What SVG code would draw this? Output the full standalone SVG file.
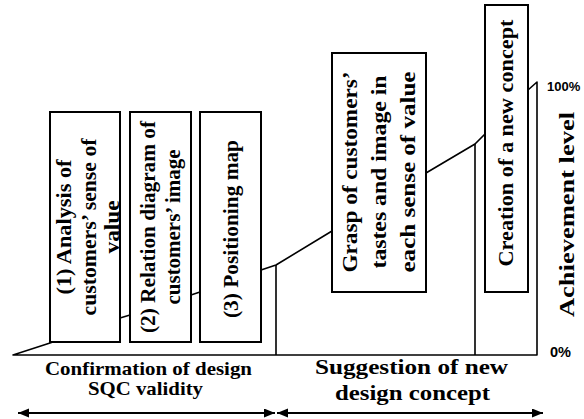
<svg xmlns="http://www.w3.org/2000/svg" width="584" height="419" viewBox="0 0 584 419">
<style>
.box{fill:#fff;stroke:#000;stroke-width:2}
.ln{fill:none;stroke:#000;stroke-width:1.6;stroke-linejoin:round}
.arr{fill:none;stroke:#000;stroke-width:2.2}
.t{font-family:"Liberation Serif","Times New Roman",serif;font-weight:bold;font-size:20px;fill:#000}
.tb{font-family:"Liberation Serif","Times New Roman",serif;font-weight:bold;font-size:19px;fill:#000}
.tl{font-family:"Liberation Serif","Times New Roman",serif;font-weight:bold;font-size:22px;fill:#000}
.s{font-family:"Liberation Sans",Arial,sans-serif;font-weight:bold;font-size:13px;fill:#000}
</style>
<defs>
<marker id="ah" markerUnits="userSpaceOnUse" markerWidth="12" markerHeight="10" refX="11" refY="4.5" orient="auto-start-reverse">
<path d="M0,0 L11,4.5 L0,9 Z" fill="#000"/>
</marker>
</defs>
<rect width="584" height="419" fill="#fff"/>
<g id="connectors">
<path class="ln" d="M13,355 L50,343 L120,318 L130,315 L191,295 L200,292 L261,270 L276,265 L332,231 L426,173 L475,144 L485,134 L528,90 L537,82 L537,355 Z"/>
<path class="ln" d="M276,265 V355 M475,144 V355"/>
<line class="arr" x1="18" y1="413" x2="275" y2="413" marker-start="url(#ah)" marker-end="url(#ah)"/>
<line class="arr" x1="277" y1="413" x2="543" y2="413" marker-start="url(#ah)" marker-end="url(#ah)"/>
</g>
<g id="node1">
<rect class="box" x="50" y="112" width="70" height="230"/>
<g transform="translate(0,227) rotate(-90)" class="t" text-anchor="middle">
<text x="0" y="71" textLength="135" lengthAdjust="spacingAndGlyphs">(1) Analysis of</text>
<text x="0" y="96" textLength="177" lengthAdjust="spacingAndGlyphs">customers’ sense of</text>
<text x="0" y="119" textLength="53" lengthAdjust="spacingAndGlyphs">value</text>
</g>
</g>
<g id="node2">
<rect class="box" x="130" y="112" width="61" height="230"/>
<g transform="translate(0,227) rotate(-90)" class="t" text-anchor="middle">
<text x="0" y="155" textLength="212" lengthAdjust="spacingAndGlyphs">(2) Relation diagram of</text>
<text x="0" y="180" textLength="155" lengthAdjust="spacingAndGlyphs">customers’ image</text>
</g>
</g>
<g id="node3">
<rect class="box" x="200" y="112" width="61" height="230"/>
<g transform="translate(0,229) rotate(-90)" class="t" text-anchor="middle">
<text x="0" y="238" textLength="178" lengthAdjust="spacingAndGlyphs">(3) Positioning map</text>
</g>
</g>
<g id="node4">
<rect class="box" x="332" y="53" width="94" height="239"/>
<g transform="translate(0,172) rotate(-90)" class="t" text-anchor="middle">
<text x="0" y="357" textLength="201" lengthAdjust="spacingAndGlyphs">Grasp of customers’</text>
<text x="0" y="386" textLength="193" lengthAdjust="spacingAndGlyphs">tastes and image in</text>
<text x="0" y="415" textLength="201" lengthAdjust="spacingAndGlyphs">each sense of value</text>
</g>
</g>
<g id="node5">
<rect class="box" x="485" y="5" width="43" height="287"/>
<g transform="translate(0,143) rotate(-90)" class="t" text-anchor="middle">
<text x="0" y="513" textLength="247" lengthAdjust="spacingAndGlyphs">Creation of a new concept</text>
</g>
</g>
<g id="axis">
<text class="s" x="547" y="91">100%</text>
<text class="s" x="550" y="356.5" style="font-size:14px" textLength="21" lengthAdjust="spacingAndGlyphs">0%</text>
<text class="tl" transform="translate(574,214.5) rotate(-90)" text-anchor="middle" textLength="205" lengthAdjust="spacingAndGlyphs">Achievement level</text>
</g>
<g id="phase1">
<text class="tb" x="148.5" y="375" text-anchor="middle" textLength="207" lengthAdjust="spacingAndGlyphs">Confirmation of design</text>
<text class="tb" x="145.5" y="395" text-anchor="middle" textLength="115" lengthAdjust="spacingAndGlyphs">SQC validity</text>
</g>
<g id="phase2">
<text class="tl" x="411.5" y="374" text-anchor="middle" textLength="193" lengthAdjust="spacingAndGlyphs">Suggestion of new</text>
<text class="tl" x="412.5" y="400" text-anchor="middle" textLength="155" lengthAdjust="spacingAndGlyphs">design concept</text>
</g>
</svg>
